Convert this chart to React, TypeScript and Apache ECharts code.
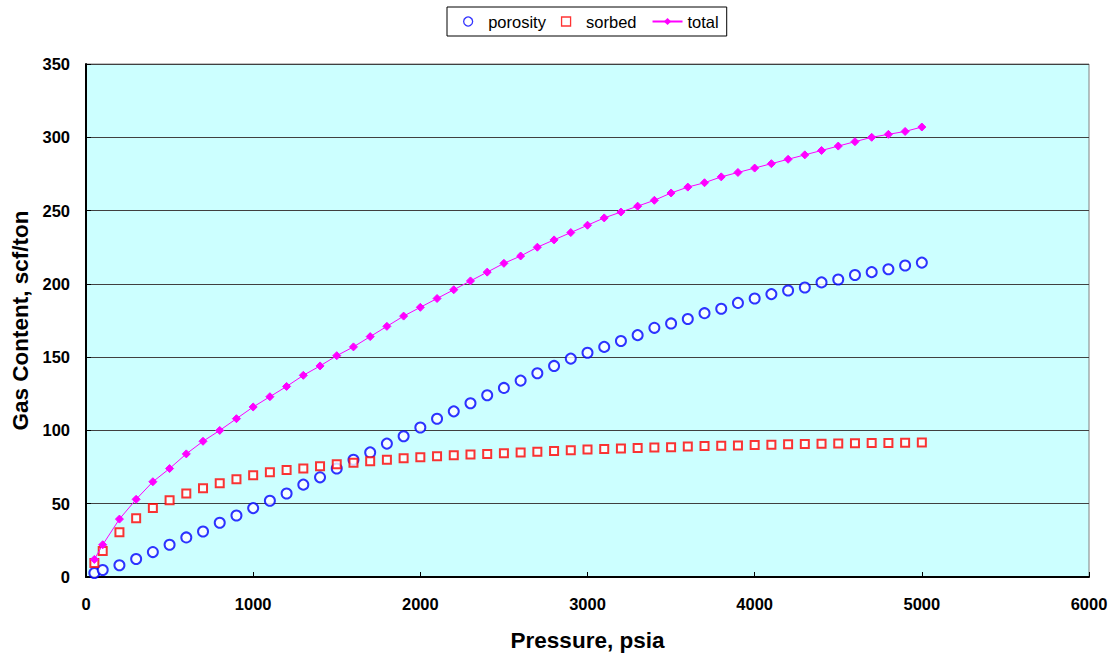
import React, { useEffect, useRef } from "react";
import * as echarts from "echarts";

const pressure = [50, 100, 200, 300, 400, 500, 600, 700, 800, 900, 1000, 1100, 1200, 1300, 1400, 1500, 1600, 1700, 1800, 1900, 2000, 2100, 2200, 2300, 2400, 2500, 2600, 2700, 2800, 2900, 3000, 3100, 3200, 3300, 3400, 3500, 3600, 3700, 3800, 3900, 4000, 4100, 4200, 4300, 4400, 4500, 4600, 4700, 4800, 4900, 5000];

const porosity = [2.7, 4.8, 8, 12.3, 17, 22, 27, 31, 37, 42, 47, 52, 57, 63, 68, 74, 80, 85, 91, 96, 102, 108, 113, 118.5, 124, 129, 134, 139, 144, 149, 153, 157, 161, 165, 170, 173, 176, 180, 183, 187, 190, 193, 195.5, 197.5, 201, 203, 206, 208, 210, 212.5, 214.5];

const sorbed = [9.5, 17.7, 30.6, 40, 47, 52.4, 57, 60.6, 64, 66.7, 69.5, 71.5, 73, 74, 75.6, 77, 78, 79, 80, 81, 81.7, 82.4, 83, 83.5, 84, 84.5, 85, 85.5, 86, 86.5, 87, 87.3, 87.6, 88, 88.3, 88.6, 89, 89.3, 89.5, 89.8, 90, 90.2, 90.5, 90.7, 90.9, 91, 91.2, 91.4, 91.5, 91.6, 91.8];

const total = [12, 22, 39.5, 53, 65, 74, 84, 92.6, 100, 108, 116, 123, 130, 137.6, 144, 151, 157, 164, 171, 178, 184, 190, 196, 202, 208, 214, 219, 225, 230, 235, 240, 245, 249, 253, 257, 262, 266, 269, 273, 276, 279, 282, 285, 288, 291, 294, 297, 300, 302, 304, 307];

const seriesNames = ["porosity", "sorbed", "total"];
const xTitle = "Pressure, psia";
const yTitle = "Gas Content, scf/ton";

const FONT = "'Liberation Sans', Arial, sans-serif";

export default function App() {
  const ref = useRef<HTMLDivElement>(null);
  useEffect(() => {
    if (!ref.current) return;
    const chart = echarts.init(ref.current, undefined, { renderer: "svg" });
    const zip = (ys: number[]) => pressure.map((x, i) => [x, ys[i]]);
    chart.setOption({
      animation: false,
      backgroundColor: "#ffffff",
      textStyle: { fontFamily: FONT },
      legend: {
        top: 7,
        left: 447,
        data: [
          {
            name: seriesNames[0],
            icon: "circle",
            itemStyle: { color: "#ffffff", borderColor: "#0000FF", borderWidth: 1.3 },
          },
          {
            name: seriesNames[1],
            icon: "path://M0,0L10,0L10,10L0,10Z",
            itemStyle: { color: "#ffffff", borderColor: "#FF0000", borderWidth: 1.3 },
          },
          { name: seriesNames[2] },
        ],
        backgroundColor: "#ffffff",
        borderColor: "#000000",
        borderWidth: 1,
        borderRadius: 0,
        padding: [6, 8, 6, 16],
        itemGap: 15,
        itemWidth: 30,
        itemHeight: 9,
        textStyle: { fontFamily: FONT, fontSize: 16.5, color: "#000" },
      },
      grid: {
        left: 86,
        right: 25,
        top: 64,
        bottom: 81,
        show: true,
        containLabel: false,
        outerBoundsMode: "none",
        backgroundColor: "#CCFFFF",
        borderColor: "#808080",
        borderWidth: 1,
      },
      xAxis: {
        type: "value",
        min: 0,
        max: 6000,
        interval: 1000,
        name: xTitle,
        nameLocation: "middle",
        nameGap: 52,
        nameTextStyle: { fontFamily: FONT, fontSize: 22.5, fontWeight: "bold", color: "#000" },
        axisLine: { show: true, onZero: false, lineStyle: { color: "#000", width: 2 } },
        axisTick: { show: true, inside: true, length: 5, lineStyle: { color: "#000" } },
        axisLabel: {
          fontFamily: FONT,
          fontSize: 16.5,
          fontWeight: "bold",
          color: "#000",
          margin: 18,
          formatter: (v: number) => String(v),
        },
        splitLine: { show: false },
      },
      yAxis: {
        type: "value",
        min: 0,
        max: 350,
        interval: 50,
        name: yTitle,
        nameLocation: "middle",
        nameGap: 52,
        nameTextStyle: { fontFamily: FONT, fontSize: 22.5, fontWeight: "bold", color: "#000" },
        axisLine: { show: true, lineStyle: { color: "#000", width: 2 } },
        axisTick: { show: true, inside: true, length: 5, lineStyle: { color: "#000" } },
        axisLabel: {
          fontFamily: FONT,
          fontSize: 16.5,
          fontWeight: "bold",
          color: "#000",
          margin: 16,
          formatter: (v: number) => String(v),
        },
        splitLine: { show: true, lineStyle: { color: "#404040", width: 1 } },
      },
      series: [
        {
          name: seriesNames[0],
          type: "scatter",
          symbol: "emptyCircle",
          symbolSize: 10,
          data: zip(porosity),
          itemStyle: { color: "#0000FF", borderColor: "#0000FF", borderWidth: 1.3 },
          z: 2,
        },
        {
          name: seriesNames[1],
          type: "scatter",
          symbol: "emptyRect",
          symbolSize: 8,
          data: zip(sorbed),
          itemStyle: { color: "#FF0000", borderColor: "#FF0000", borderWidth: 1.3 },
          z: 3,
        },
        {
          name: seriesNames[2],
          type: "line",
          symbol: "diamond",
          symbolSize: 8,
          showSymbol: true,
          data: zip(total),
          lineStyle: { color: "#FF00FF", width: 1 },
          itemStyle: { color: "#FF00FF", borderColor: "#FF00FF" },
          z: 4,
        },
      ],
    });
    return () => chart.dispose();
  }, []);
  return (
    <div
      ref={ref}
      style={{ position: "absolute", left: 0, top: 0, width: 1114, height: 658 }}
    />
  );
}
